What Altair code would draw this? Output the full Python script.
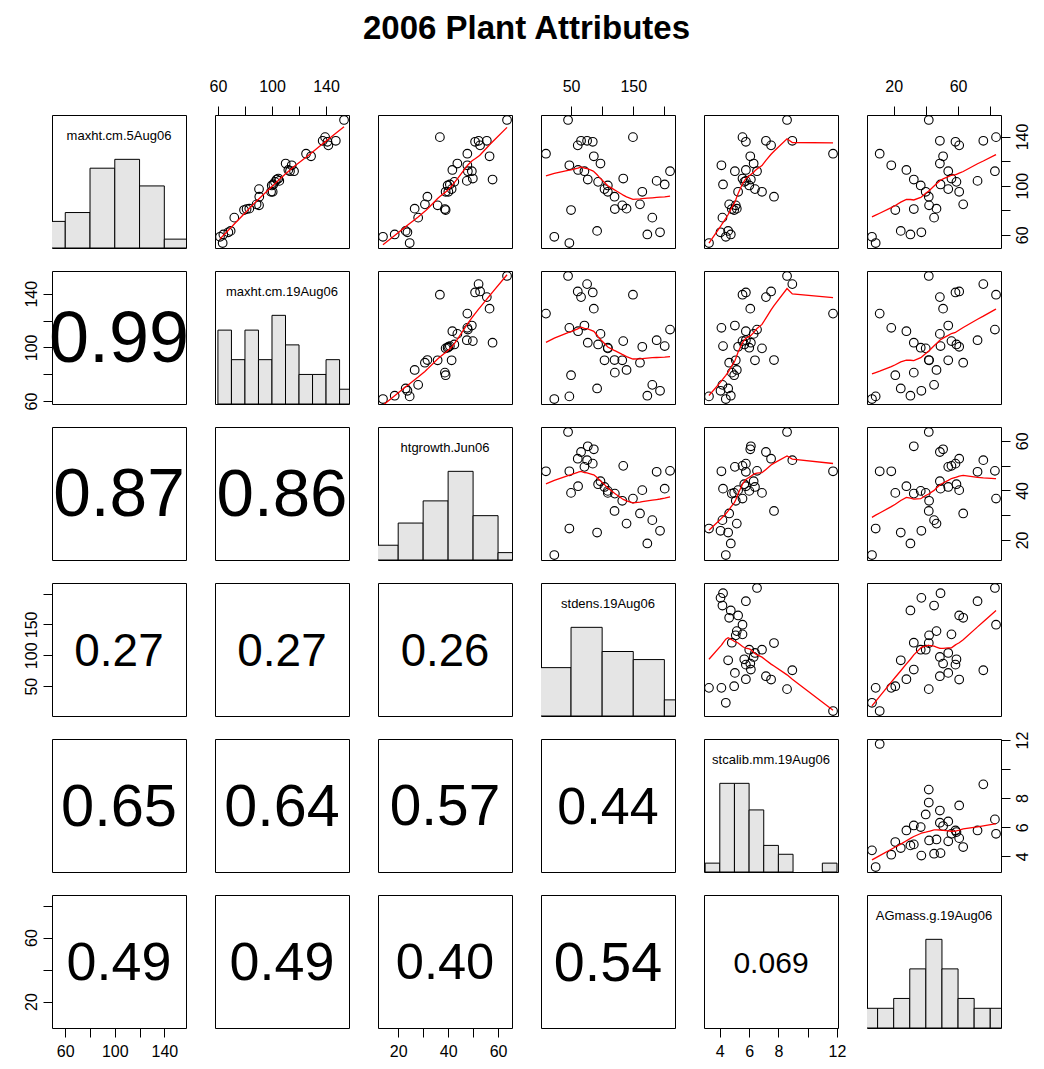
import altair as alt
import pandas as pd

FONT = "Liberation Sans"

var_names = ["maxht.cm.5Aug06", "maxht.cm.19Aug06", "htgrowth.Jun06",
             "stdens.19Aug06", "stcalib.mm.19Aug06", "AGmass.g.19Aug06"]
keys = ["v1", "v2", "v3", "v4", "v5", "v6"]

maxht_5aug = [153.5, 139.5, 136.5, 136.5, 135.7, 132.8, 126.0, 123.9, 118.0, 116.6, 112.8, 111.8,
              111.8, 105.8, 105.0, 103.9, 103.1, 101.0, 100.2, 97.2, 95.0, 95.0, 91.0, 84.8,
              84.0, 81.3, 81.0, 80.2, 74.0, 63.2, 62.1, 60.3, 58.4, 53.3]
maxht_19aug = [153.3, 139.3, 137.5, 147.2, 141.0, 141.7, 125.2, 128.9, 110.1, 114.6, 112.1, 116.3,
               113.3, 104.7, 103.5, 105.4, 102.2, 101.0, 99.8, 90.4, 99.3, 100.5, 90.6, 88.6,
               90.4, 83.2, 81.2, 79.3, 72.1, 69.4, 67.7, 64.0, 61.5, 63.5]
htgrowth = [63.6, 36.7, 55.5, 52.2, 50.8, 52.8, 47.7, 56.6, 43.7, 47.7, 41.7, 49.5,
            47.9, 49.9, 57.8, 47.5, 42.5, 40.7, 39.8, 41.4, 39.0, 40.1, 31.7, 30.7,
            35.8, 26.6, 38.7, 39.0, 28.0, 23.0, 23.7, 18.6, 13.9, 24.6]
stdens = [45.2, 149.5, 66.1, 75.8, 84.9, 60.8, 9.7, 86.6, 97.3, 47.3, 61.3, 71.5,
          209.1, 133.9, 76.9, 187.6, 93.5, 200.5, 109.1, 103.8, 109.1, 164.5, 119.9, 160.8,
          132.3, 139.2, 120.4, 50.0, 180.6, 91.9, 193.0, 172.6, 23.1, 47.3]
stcalib = [8.59, 5.55, 7.15, 8.95, 5.78, 7.50, 11.73, 6.08, 6.31, 4.11, 5.78, 5.03,
           6.54, 5.55, 6.12, 5.78, 5.67, 4.22, 6.01, 6.40, 6.88, 5.25, 7.70, 4.64,
           5.09, 5.16, 4.82, 4.98, 4.18, 4.57, 4.05, 4.75, 4.41, 3.26]
agmass = [41.8, 83.6, 48.7, 75.7, 58.4, 60.7, 11.3, 50.7, 48.7, 18.5, 27.9, 53.9,
          82.9, 55.9, 32.5, 72.1, 59.0, 49.1, 36.8, 53.9, 39.9, 60.7, 41.8, 63.2,
          42.0, 46.6, 32.5, 21.0, 45.1, 24.4, 37.2, 30.4, 6.5, 8.8]

# ---- histogram bins (diagonal) ----
hist_edges = {
    "v1": [40, 60, 80, 100, 120, 140, 160],
    "v2": [60, 70, 80, 90, 100, 110, 120, 130, 140, 150, 160],
    "v3": [10, 20, 30, 40, 50, 60, 70],
    "v4": [0, 50, 100, 150, 200, 250],
    "v5": [3, 4, 5, 6, 7, 8, 9, 10, 11, 12],
    "v6": [0, 10, 20, 30, 40, 50, 60, 70, 80, 90],
}
hist_counts = {
    "v1": [3, 4, 9, 10, 7, 1],
    "v2": [5, 3, 5, 3, 6, 4, 2, 2, 3, 1],
    "v3": [2, 5, 8, 12, 6, 1],
    "v4": [6, 11, 8, 7, 2],
    "v5": [1, 10, 10, 7, 3, 2, 0, 0, 1],
    "v6": [2, 2, 3, 6, 9, 6, 3, 2, 2],
}

# ---- correlations (lower panels) ----
cor_rows = [1, 2, 2, 3, 3, 3, 4, 4, 4, 4, 5, 5, 5, 5, 5]
cor_cols = [0, 0, 1, 0, 1, 2, 0, 1, 2, 3, 0, 1, 2, 3, 4]
cor_text = ["0.99", "0.87", "0.86", "0.27", "0.27", "0.26", "0.65", "0.64",
            "0.57", "0.44", "0.49", "0.49", "0.40", "0.54", "0.069"]

# ---- axis ticks / labels ----
axis_ticks = {"v1": [60, 80, 100, 120, 140], "v2": [60, 80, 100, 120, 140],
              "v3": [20, 30, 40, 50, 60], "v4": [50, 100, 150, 200],
              "v5": [4, 6, 8, 10, 12], "v6": [20, 40, 60, 80]}
labels_h = {"v1": [60, 100, 140], "v2": [60, 100, 140], "v3": [20, 40, 60],
            "v4": [50, 150], "v5": [4, 6, 8, 12], "v6": [20, 60]}
labels_v = {"v1": [60, 100, 140], "v2": [60, 100, 140], "v3": [20, 40, 60],
            "v4": [50, 100, 150], "v5": [4, 6, 8, 12], "v6": [20, 60]}

df = pd.DataFrame({"v1": maxht_5aug, "v2": maxht_19aug, "v3": htgrowth,
                   "v4": stdens, "v5": stcalib, "v6": agmass})

W, H = 134, 133
dom = {}
for k in keys:
    lo, hi = float(df[k].min()), float(df[k].max())
    r = hi - lo
    dom[k] = [lo - 0.04 * r, hi + 0.04 * r]

PAD = {"top": 12, "bottom": 6, "left": 4, "right": 4}


def make_axis(var, orient):
    if orient in ("left", "right"):
        shown = labels_v[var]
    else:
        shown = labels_h[var]
    expr = f"indexof({shown}, datum.value) >= 0 ? datum.label : ''"
    kw = dict(orient=orient, values=axis_ticks[var], labelExpr=expr, title=None,
              tickSize=9, labelPadding=PAD[orient], grid=False, domain=False,
              labelFontSize=16, labelFont=FONT, tickColor="black", labelColor="black",
              labelOverlap=False, labelFlush=False, tickWidth=1)
    if orient == "left":
        kw.update(labelAngle=-90, labelAlign="center", labelBaseline="bottom")
    elif orient == "right":
        kw.update(labelAngle=-90, labelAlign="center", labelBaseline="top")
    elif orient == "top":
        kw.update(labelAngle=0, labelAlign="center", labelBaseline="bottom")
    else:
        kw.update(labelAngle=0, labelAlign="center", labelBaseline="top")
    return alt.Axis(**kw)


def xenc(var, axis):
    return alt.X(f"{var}:Q", scale=alt.Scale(domain=dom[var], nice=False, zero=False),
                 axis=axis)


def yenc(var, axis):
    return alt.Y(f"{var}:Q", scale=alt.Scale(domain=dom[var], nice=False, zero=False),
                 axis=axis)


def panel(i, j):
    vi, vj = keys[i], keys[j]
    xa = None
    ya = None
    if i == 0 and j % 2 == 1:
        xa = make_axis(vj, "top")
    if i == 5 and j % 2 == 0:
        xa = make_axis(vj, "bottom")
    if j == 0 and i % 2 == 1:
        ya = make_axis(vi, "left")
    if j == 5 and i % 2 == 0:
        ya = make_axis(vi, "right")

    if i < j:
        pts = alt.Chart(df).mark_point(shape="circle", filled=False, color="black",
                                       size=75, strokeWidth=1.1, opacity=1).encode(
            x=xenc(vj, xa), y=yenc(vi, ya))
        line = alt.Chart(df).transform_loess(vj, vi, bandwidth=2 / 3).mark_line(
            color="red", strokeWidth=1.3, clip=True).encode(
            x=xenc(vj, xa), y=yenc(vi, ya))
        return alt.layer(pts, line).properties(width=W, height=H)

    if i == j:
        edges = hist_edges[vi]
        counts = hist_counts[vi]
        hdf = pd.DataFrame({"lo": edges[:-1], "hi": edges[1:], "count": counts})
        hdf = hdf[hdf["count"] > 0]
        ymax = 1.5 * max(counts)
        bars = alt.Chart(hdf).mark_rect(fill="#E5E5E5", stroke="black", strokeWidth=1,
                                        clip=True).encode(
            x=alt.X("lo:Q", scale=alt.Scale(domain=dom[vi], nice=False, zero=False), axis=None),
            x2="hi:Q",
            y=alt.Y("count:Q", scale=alt.Scale(domain=[0, ymax], nice=False), axis=None),
            y2=alt.datum(0))
        lab = alt.Chart(pd.DataFrame({"t": [var_names[i]]})).mark_text(
            font=FONT, fontSize=13, baseline="middle", align="center", color="black").encode(
            text="t:N", x=alt.value(W / 2), y=alt.value(21))
        return alt.layer(bars, lab).properties(width=W, height=H)

    # lower: correlation text
    idx = [k for k in range(len(cor_text)) if cor_rows[k] == i and cor_cols[k] == j][0]
    tdf = pd.DataFrame({"label": [cor_text[idx]]})
    txt = alt.Chart(tdf).transform_calculate(
        fs="70.35 * (1 + abs(toNumber(datum.label))) / (0.556 * (length(datum.label) - 1) + 0.278)"
    ).mark_text(font=FONT, baseline="middle", align="center", color="black").encode(
        text="label:N", size=alt.Size("fs:Q", scale=None, legend=None),
        x=alt.value(W / 2), y=alt.value(H / 2 + 2))
    layers = []
    if xa is not None or ya is not None:
        ghost = alt.Chart(df).mark_point(opacity=0).encode(
            x=xenc(vj, xa), y=yenc(vi, ya))
        layers.append(ghost)
    layers.append(txt)
    return alt.layer(*layers).properties(width=W, height=H)


panels = [panel(i, j) for i in range(6) for j in range(6)]

chart = alt.ConcatChart(
    concat=panels, columns=6, spacing={"row": 23, "column": 29}, bounds="flush"
).resolve_scale(
    x="independent", y="independent"
).properties(
    title=alt.TitleParams("2006 Plant Attributes", fontSize=33, font=FONT,
                          fontWeight="bold", anchor="middle", offset=32, color="black"),
    padding={"left": 14, "top": 4, "right": 5, "bottom": 5},
).configure(background="white").configure_view(stroke="black", strokeWidth=1)

chart.save("out.html", embed_options={"renderer": "svg", "actions": False})
